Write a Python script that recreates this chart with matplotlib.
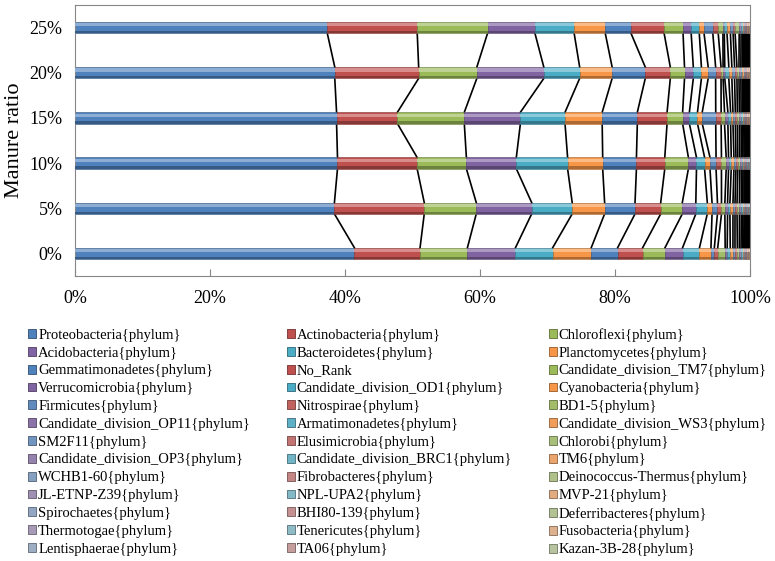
import numpy as np
import matplotlib.pyplot as plt
from matplotlib.patches import Patch
from matplotlib.colors import to_rgb

plt.rcParams['font.family'] = ['Liberation Serif', 'DejaVu Serif']

categories = ['0%', '5%', '10%', '15%', '20%', '25%']

phyla = ['Proteobacteria{phylum}', 'Actinobacteria{phylum}', 'Chloroflexi{phylum}',
         'Acidobacteria{phylum}', 'Bacteroidetes{phylum}', 'Planctomycetes{phylum}',
         'Gemmatimonadetes{phylum}', 'No_Rank', 'Candidate_division_TM7{phylum}',
         'Verrucomicrobia{phylum}', 'Candidate_division_OD1{phylum}', 'Cyanobacteria{phylum}',
         'Firmicutes{phylum}', 'Nitrospirae{phylum}', 'BD1-5{phylum}',
         'Candidate_division_OP11{phylum}', 'Armatimonadetes{phylum}', 'Candidate_division_WS3{phylum}',
         'SM2F11{phylum}', 'Elusimicrobia{phylum}', 'Chlorobi{phylum}',
         'Candidate_division_OP3{phylum}', 'Candidate_division_BRC1{phylum}', 'TM6{phylum}',
         'WCHB1-60{phylum}', 'Fibrobacteres{phylum}', 'Deinococcus-Thermus{phylum}',
         'JL-ETNP-Z39{phylum}', 'NPL-UPA2{phylum}', 'MVP-21{phylum}',
         'Spirochaetes{phylum}', 'BHI80-139{phylum}', 'Deferribacteres{phylum}',
         'Thermotogae{phylum}', 'Tenericutes{phylum}', 'Fusobacteria{phylum}',
         'Lentisphaerae{phylum}', 'TA06{phylum}', 'Kazan-3B-28{phylum}']

# relative abundance (%) of each phylum, one list per manure ratio
ratio_0 = [41.3, 9.7, 7.0, 7.1, 5.5, 5.7, 3.9, 3.7, 3.3, 2.6, 2.5, 1.7, 0.5, 0.5, 1.1,
           0.3, 0.45, 0.4, 0.3, 0.35, 0.3, 0.25, 0.22, 0.18, 0.15, 0.12, 0.1, 0.09,
           0.08, 0.07, 0.06, 0.05, 0.05, 0.04, 0.03, 0.03, 0.02, 0.02, 0.01]
ratio_5 = [38.4, 13.3, 7.7, 8.2, 6.0, 4.8, 4.5, 3.8, 3.2, 2.0, 1.7, 0.7, 0.8, 0.6, 0.5,
           0.4, 0.35, 0.45, 0.3, 0.3, 0.35, 0.28, 0.22, 0.18, 0.14, 0.12, 0.1, 0.09,
           0.08, 0.07, 0.06, 0.05, 0.04, 0.04, 0.03, 0.03, 0.02, 0.01, 0.01]
ratio_10 = [38.9, 11.8, 7.3, 7.4, 7.6, 5.2, 5.0, 4.2, 3.5, 1.2, 1.2, 0.8, 0.9, 0.8, 0.7,
            0.35, 0.4, 0.4, 0.3, 0.28, 0.3, 0.25, 0.2, 0.17, 0.14, 0.12, 0.1, 0.09,
            0.07, 0.07, 0.06, 0.05, 0.04, 0.04, 0.03, 0.02, 0.02, 0.02, 0.01]
ratio_15 = [38.7, 9.0, 9.9, 8.3, 6.6, 5.5, 5.2, 4.4, 2.3, 1.0, 1.2, 0.7, 2.0, 0.8, 0.5,
            0.5, 0.4, 0.35, 0.35, 0.3, 0.3, 0.25, 0.22, 0.18, 0.15, 0.12, 0.1, 0.09,
            0.08, 0.07, 0.06, 0.05, 0.05, 0.04, 0.03, 0.03, 0.02, 0.02, 0.01]
ratio_20 = [38.4, 12.4, 8.6, 9.9, 5.3, 4.8, 4.9, 3.7, 2.1, 1.3, 1.2, 1.0, 1.1, 0.8, 0.3,
            0.25, 0.6, 0.45, 0.4, 0.35, 0.3, 0.28, 0.22, 0.2, 0.15, 0.13, 0.1, 0.09,
            0.08, 0.07, 0.06, 0.05, 0.05, 0.04, 0.03, 0.03, 0.02, 0.02, 0.01]
ratio_25 = [37.3, 13.3, 10.4, 7.0, 5.8, 4.6, 3.8, 4.9, 2.8, 1.2, 1.2, 0.7, 1.3, 0.8, 0.7,
            0.2, 0.4, 0.5, 0.4, 0.3, 0.6, 0.28, 0.22, 0.18, 0.15, 0.12, 0.1, 0.09,
            0.08, 0.07, 0.06, 0.05, 0.05, 0.04, 0.03, 0.03, 0.02, 0.02, 0.01]

vals = np.array([ratio_0, ratio_5, ratio_10, ratio_15, ratio_20, ratio_25])
pct = vals / vals.sum(axis=1, keepdims=True) * 100
cum = np.cumsum(pct, axis=1)
left = cum - pct

base = ['#4F81BD', '#C0504D', '#9BBB59', '#8064A2', '#4BACC6', '#F79646']
fade = [0, 0, 0.15, 0.3, 0.45, 0.55, 0.65]


def mix(c, other, t):
    c = np.array(to_rgb(c))
    return tuple(c * (1 - t) + np.array(other) * t)


colors = [mix(base[i % 6], (0.78, 0.78, 0.78), fade[i // 6]) for i in range(len(phyla))]

fig = plt.figure(figsize=(7.75, 5.61), dpi=100)
ax = fig.add_axes([75 / 775, 1 - 276 / 561, 675 / 775, 271 / 561])

ypos = np.arange(len(categories))
h = 0.25
handles = []
for j in range(len(phyla)):
    c = colors[j]
    ax.barh(ypos, pct[:, j], left=left[:, j], height=h, color=c,
            edgecolor=mix(c, (0, 0, 0), 0.35), linewidth=0.4, zorder=2)
    ax.barh(ypos + h * 0.25, pct[:, j], left=left[:, j], height=h * 0.28,
            color=mix(c, (1, 1, 1), 0.35), linewidth=0, zorder=3)
    ax.barh(ypos - h * 0.4, pct[:, j], left=left[:, j], height=h * 0.2,
            color=mix(c, (0, 0, 0), 0.3), linewidth=0, zorder=3)
    # series lines between neighbouring bars
    for i in range(len(categories) - 1):
        ax.plot([cum[i, j], cum[i + 1, j]], [ypos[i] + h / 2, ypos[i + 1] - h / 2],
                color='black', lw=1.2, zorder=1)
    handles.append(Patch(facecolor=c, edgecolor=mix(c, (0, 0, 0), 0.4), linewidth=0.6))

ax.set_xlim(0, 100)
ax.set_ylim(-0.5, 5.5)
ax.set_xticks(range(0, 101, 20))
ax.set_xticklabels([f'{v}%' for v in range(0, 101, 20)], fontsize=13)
ax.set_yticks(ypos)
ax.set_yticklabels(categories, fontsize=13)
ax.tick_params(axis='x', direction='in', length=5, pad=10, color='#868686')
ax.tick_params(axis='y', length=0, pad=9)
for s in ax.spines.values():
    s.set_color('#868686')
ax.set_ylabel('Manure ratio', fontsize=16, labelpad=4)

order = [i for c in range(3) for i in range(c, len(phyla), 3)]
fig.legend([handles[i] for i in order], [phyla[i] for i in order], ncol=3,
           loc='upper left', bbox_to_anchor=(28 / 775, 1 - 328 / 561), frameon=False,
           fontsize=10.5, handlelength=0.55, handleheight=0.55, handletextpad=0.15,
           columnspacing=2.5, labelspacing=0.33, borderaxespad=0, borderpad=0)

fig.savefig('out.png', dpi=100)
